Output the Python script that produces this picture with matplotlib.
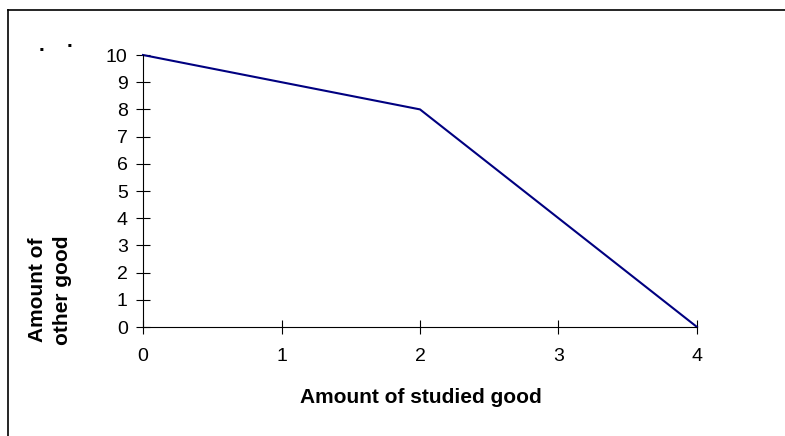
import matplotlib
matplotlib.use('Agg')
import matplotlib.pyplot as plt
from matplotlib.lines import Line2D

# data: production possibility points
studied_good = [0, 2, 4]
other_good = [10, 8, 0]
x_ticks = [0, 1, 2, 3, 4]
y_ticks = list(range(0, 11))

plt.rcParams['font.family'] = ['Liberation Sans', 'DejaVu Sans']

fig = plt.figure(figsize=(7.85, 4.36), dpi=100)
ax = fig.add_axes([143 / 785, 1 - 327 / 436, (697 - 143) / 785, (327 - 55) / 436])

ax.plot(studied_good, other_good, color='#000080', linewidth=1.5, clip_on=False)

ax.set_xlim(0, 4)
ax.set_ylim(0, 10)
ax.set_xticks(x_ticks)
ax.set_yticks(y_ticks)
ax.tick_params(direction='inout', length=10, width=0.8, labelsize=14, pad=6)
ax.tick_params(axis='x', pad=10)
for side in ('top', 'right'):
    ax.spines[side].set_visible(False)
for side in ('left', 'bottom'):
    ax.spines[side].set_linewidth(0.8)

fig.text(421 / 785, 1 - 397 / 436, 'Amount of studied good', ha='center', va='center',
         fontsize=15, fontweight='bold')
fig.text(50 / 785, 1 - 290 / 436, 'Amount of\nother good', ha='center', va='center',
         rotation=90, fontsize=15, fontweight='bold', linespacing=1.35)

# the two stray dots top-left
fig.text(41 / 785, 1 - 55 / 436, '.', ha='center', va='bottom', fontsize=15, fontweight='bold')
fig.text(69 / 785, 1 - 51 / 436, '.', ha='center', va='bottom', fontsize=15, fontweight='bold')

# frame (only left and top edges visible in the reference)
fig.add_artist(Line2D([8 / 785, 8 / 785], [0, 1 - 10 / 436], color='black', linewidth=1.2,
                      transform=fig.transFigure))
fig.add_artist(Line2D([8 / 785, 1], [1 - 10 / 436, 1 - 10 / 436], color='black', linewidth=1.2,
                      transform=fig.transFigure))

fig.savefig('out.png', dpi=100)
